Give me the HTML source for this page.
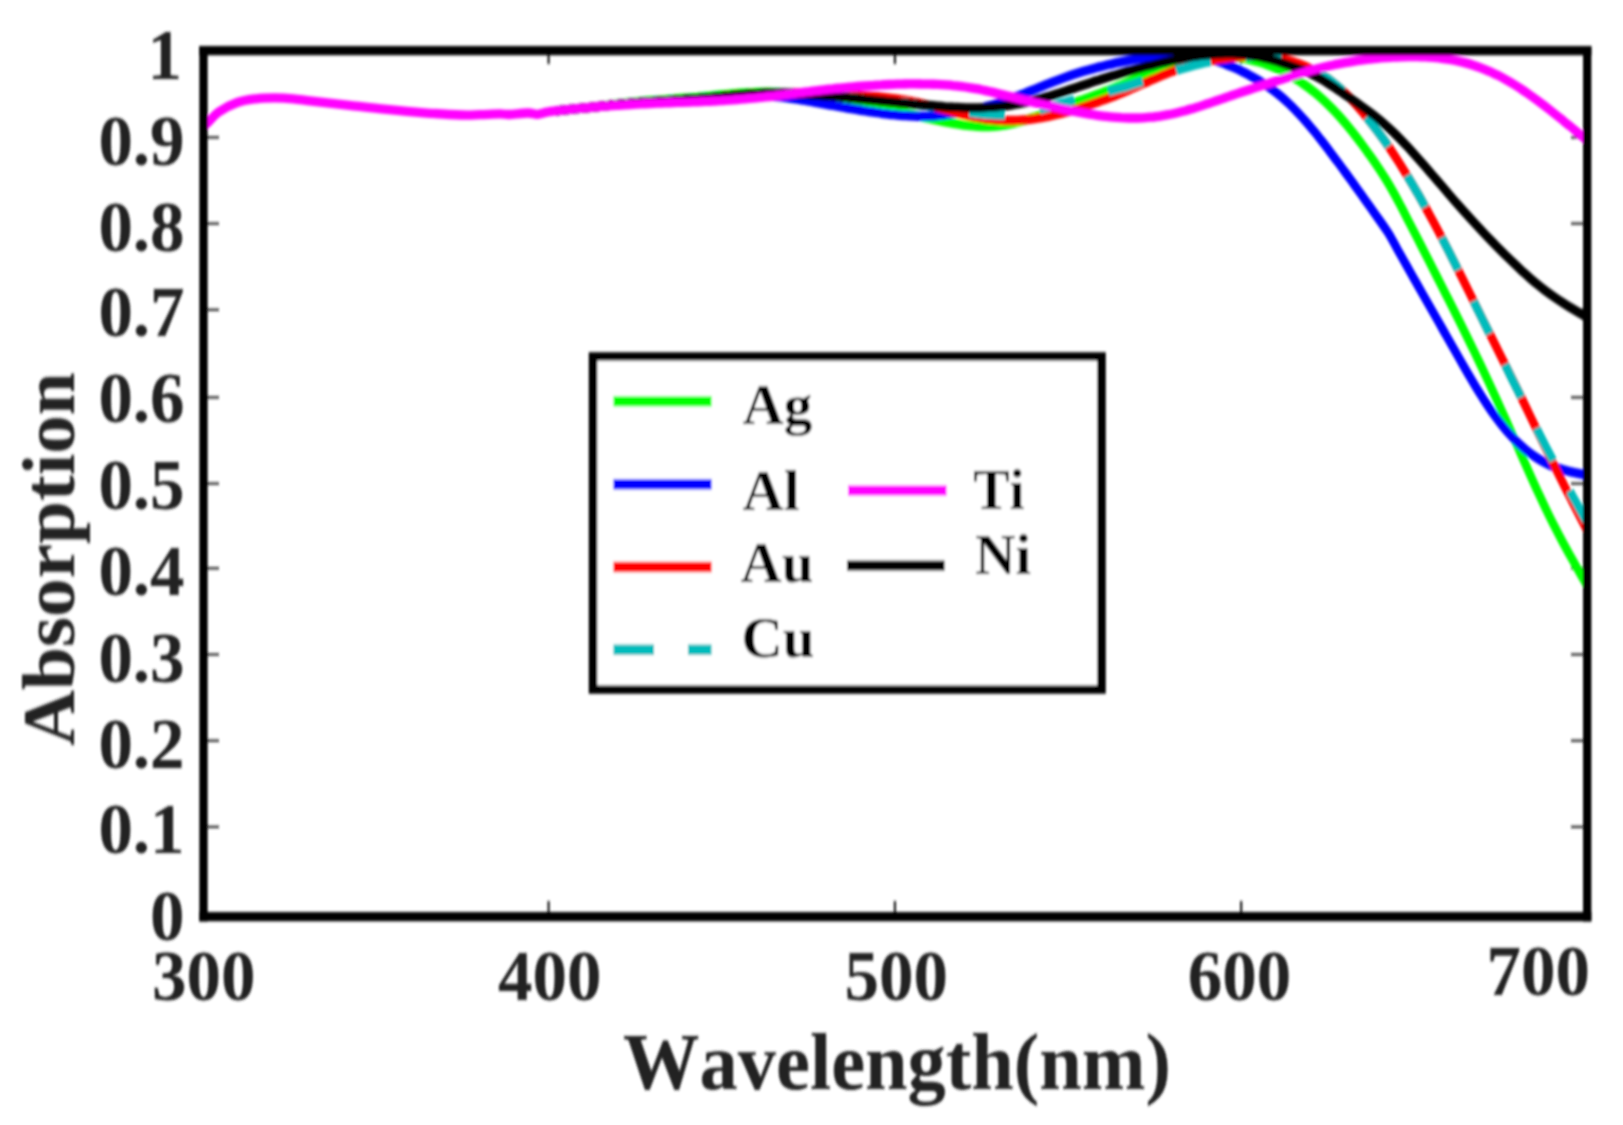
<!DOCTYPE html>
<html lang="en"><head><meta charset="utf-8"><title>Absorption vs Wavelength</title>
<style>
html,body{margin:0;padding:0;background:#fff;}
body{width:1623px;height:1125px;overflow:hidden;position:relative;font-family:"Liberation Serif",serif;}
svg{position:absolute;left:0;top:0;}
text{font-family:"Liberation Serif",serif;font-weight:bold;fill:#222;font-kerning:none;}
.tk{stroke:#222;stroke-width:2.3;}
.cv{fill:none;stroke-width:7.8;stroke-linejoin:round;}
</style></head><body>
<svg width="1623" height="1125" viewBox="0 0 1623 1125">
<rect x="0" y="0" width="1623" height="1125" fill="#fff"/>
<defs><filter id="bl" x="0" y="0" width="1623" height="1125" filterUnits="userSpaceOnUse"><feGaussianBlur stdDeviation="1.1 1.5"/></filter></defs>
<g filter="url(#bl)">
<defs><clipPath id="pc"><rect x="203" y="50" width="1384" height="867"/></clipPath></defs>
<line class="tk" x1="207" x2="219" y1="826.9" y2="826.9"/>
<line class="tk" x1="1571" x2="1583" y1="826.9" y2="826.9"/>
<line class="tk" x1="207" x2="219" y1="740.7" y2="740.7"/>
<line class="tk" x1="1571" x2="1583" y1="740.7" y2="740.7"/>
<line class="tk" x1="207" x2="219" y1="654.5" y2="654.5"/>
<line class="tk" x1="1571" x2="1583" y1="654.5" y2="654.5"/>
<line class="tk" x1="207" x2="219" y1="568.3" y2="568.3"/>
<line class="tk" x1="1571" x2="1583" y1="568.3" y2="568.3"/>
<line class="tk" x1="207" x2="219" y1="483.6" y2="483.6"/>
<line class="tk" x1="1571" x2="1583" y1="483.6" y2="483.6"/>
<line class="tk" x1="207" x2="219" y1="397.4" y2="397.4"/>
<line class="tk" x1="1571" x2="1583" y1="397.4" y2="397.4"/>
<line class="tk" x1="207" x2="219" y1="309.8" y2="309.8"/>
<line class="tk" x1="1571" x2="1583" y1="309.8" y2="309.8"/>
<line class="tk" x1="207" x2="219" y1="223.6" y2="223.6"/>
<line class="tk" x1="1571" x2="1583" y1="223.6" y2="223.6"/>
<line class="tk" x1="207" x2="219" y1="137.4" y2="137.4"/>
<line class="tk" x1="1571" x2="1583" y1="137.4" y2="137.4"/>
<line class="tk" x1="548.6" x2="548.6" y1="54" y2="64"/>
<line class="tk" x1="548.6" x2="548.6" y1="901" y2="913"/>
<line class="tk" x1="894.9" x2="894.9" y1="54" y2="64"/>
<line class="tk" x1="894.9" x2="894.9" y1="901" y2="913"/>
<line class="tk" x1="1241.2" x2="1241.2" y1="54" y2="64"/>
<line class="tk" x1="1241.2" x2="1241.2" y1="901" y2="913"/>
<g clip-path="url(#pc)">
<g class="cv" stroke="#00ff00"><path id="cAg" transform="translate(0,-0.75)" d="M556.0 110.8C562.2 110.2 585.8 107.9 593.3 107.1C600.8 106.3 598.6 106.4 601.3 106.0C604.0 105.7 606.6 105.4 609.3 105.1C612.0 104.8 614.6 104.4 617.3 104.1C620.0 103.8 622.6 103.6 625.3 103.3C628.0 103.0 630.6 102.7 633.3 102.5C636.0 102.2 638.6 102.0 641.3 101.7C644.0 101.5 646.6 101.3 649.3 101.0C652.0 100.8 654.6 100.6 657.3 100.4C660.0 100.2 662.6 100.0 665.3 99.8C668.0 99.6 670.6 99.4 673.3 99.2C676.0 98.9 678.6 98.7 681.3 98.5C684.0 98.3 686.6 98.1 689.3 97.9C692.0 97.7 694.6 97.5 697.3 97.3C700.0 97.0 702.6 96.8 705.3 96.5C708.0 96.3 710.6 96.0 713.3 95.7C716.0 95.5 718.6 95.2 721.3 94.9C724.0 94.7 726.6 94.4 729.3 94.2C732.0 94.0 734.6 93.7 737.3 93.5C740.0 93.3 742.6 93.1 745.3 93.0C748.0 92.8 750.6 92.7 753.3 92.6C756.0 92.4 758.6 92.4 761.3 92.3C764.0 92.2 766.6 92.2 769.3 92.2C772.0 92.3 774.6 92.3 777.3 92.4C780.0 92.5 782.6 92.6 785.3 92.8C788.0 93.0 790.6 93.2 793.3 93.4C796.0 93.7 798.6 93.9 801.3 94.2C804.0 94.5 806.6 94.8 809.3 95.2C812.0 95.5 814.6 95.8 817.3 96.2C820.0 96.6 822.6 97.0 825.3 97.4C828.0 97.8 830.6 98.2 833.3 98.6C836.0 99.0 838.6 99.4 841.3 99.9C844.0 100.3 846.6 100.8 849.3 101.3C852.0 101.7 854.6 102.2 857.3 102.7C860.0 103.2 862.6 103.7 865.3 104.2C868.0 104.7 870.6 105.2 873.3 105.8C876.0 106.3 878.6 106.9 881.3 107.4C884.0 108.0 886.6 108.6 889.3 109.2C892.0 109.7 894.6 110.3 897.3 111.0C900.0 111.6 902.6 112.2 905.3 112.8C908.0 113.5 910.6 114.1 913.3 114.7C916.0 115.4 918.6 116.0 921.3 116.7C924.0 117.3 926.6 117.9 929.3 118.5C932.0 119.1 934.6 119.7 937.3 120.3C940.0 120.9 942.6 121.4 945.3 121.9C948.0 122.5 950.6 123.0 953.3 123.4C956.0 123.9 958.6 124.3 961.3 124.7C964.0 125.0 966.6 125.4 969.3 125.6C972.0 125.9 974.6 126.1 977.3 126.3C980.0 126.4 982.6 126.5 985.3 126.5C988.0 126.5 990.6 126.4 993.3 126.3C996.0 126.1 998.6 125.8 1001.3 125.5C1004.0 125.1 1006.6 124.7 1009.3 124.2C1012.0 123.6 1014.6 123.0 1017.3 122.3C1020.0 121.6 1022.6 120.9 1025.3 120.0C1028.0 119.2 1030.6 118.4 1033.3 117.5C1036.0 116.6 1038.6 115.6 1041.3 114.7C1044.0 113.7 1046.6 112.8 1049.3 111.8C1052.0 110.8 1054.6 109.9 1057.3 108.9C1060.0 107.9 1062.6 106.9 1065.3 106.0C1068.0 105.0 1070.6 104.0 1073.3 103.1C1076.0 102.2 1078.6 101.2 1081.3 100.3C1084.0 99.3 1086.6 98.4 1089.3 97.5C1092.0 96.5 1094.6 95.5 1097.3 94.5C1100.0 93.6 1102.6 92.5 1105.3 91.5C1108.0 90.5 1110.6 89.4 1113.3 88.3C1116.0 87.2 1118.6 86.1 1121.3 85.0C1124.0 83.9 1126.6 82.7 1129.3 81.6C1132.0 80.5 1134.6 79.3 1137.3 78.2C1140.0 77.1 1142.6 76.0 1145.3 74.9C1148.0 73.8 1150.6 72.7 1153.3 71.7C1156.0 70.7 1158.6 69.6 1161.3 68.7C1164.0 67.7 1166.6 66.8 1169.3 65.9C1172.0 65.0 1174.6 64.2 1177.3 63.4C1180.0 62.6 1182.6 61.9 1185.3 61.2C1188.0 60.6 1190.6 60.0 1193.3 59.4C1196.0 58.9 1198.6 58.4 1201.3 58.0C1204.0 57.6 1206.6 57.2 1209.3 57.0C1212.0 56.7 1214.6 56.5 1217.3 56.4C1220.0 56.3 1222.6 56.3 1225.3 56.4C1228.0 56.4 1230.6 56.6 1233.3 56.8C1236.0 57.1 1238.6 57.4 1241.3 57.9C1244.0 58.3 1246.6 58.8 1249.3 59.4C1252.0 60.0 1254.6 60.7 1257.3 61.5C1260.0 62.2 1262.6 63.1 1265.3 64.0C1268.0 64.9 1270.6 66.0 1273.3 67.1C1276.0 68.2 1278.6 69.4 1281.3 70.7C1284.0 72.0 1286.6 73.4 1289.3 75.0C1292.0 76.5 1294.6 78.1 1297.3 79.8C1300.0 81.5 1302.6 83.3 1305.3 85.3C1308.0 87.2 1310.6 89.2 1313.3 91.3C1316.0 93.5 1318.6 95.7 1321.3 98.1C1324.0 100.5 1326.6 103.0 1329.3 105.7C1332.0 108.3 1334.6 111.1 1337.3 114.0C1340.0 116.9 1342.6 120.0 1345.3 123.1C1348.0 126.3 1350.6 129.6 1353.3 133.0C1356.0 136.4 1358.6 139.9 1361.3 143.5C1364.0 147.1 1366.6 150.8 1369.3 154.6C1372.0 158.4 1374.6 162.1 1377.3 166.1C1380.0 170.0 1382.6 174.1 1385.3 178.4C1388.0 182.7 1390.6 187.2 1393.3 192.0C1396.0 196.8 1398.6 201.8 1401.3 206.9C1404.0 212.0 1406.6 217.4 1409.3 222.5C1412.0 227.7 1414.6 232.8 1417.3 238.0C1420.0 243.2 1422.6 248.5 1425.3 253.7C1428.0 259.0 1430.6 264.2 1433.3 269.5C1436.0 274.7 1438.6 280.0 1441.3 285.2C1444.0 290.5 1446.6 295.8 1449.3 301.1C1452.0 306.4 1454.6 311.7 1457.3 317.0C1460.0 322.4 1462.6 327.7 1465.3 333.2C1468.0 338.6 1470.6 344.1 1473.3 349.6C1476.0 355.1 1478.6 360.7 1481.3 366.3C1484.0 372.0 1486.6 377.7 1489.3 383.4C1492.0 389.2 1494.6 395.0 1497.3 400.9C1500.0 406.8 1502.6 412.7 1505.3 418.6C1508.0 424.6 1510.6 430.6 1513.3 436.7C1516.0 442.7 1518.6 448.8 1521.3 454.8C1524.0 460.8 1526.6 466.9 1529.3 472.9C1532.0 478.9 1534.6 484.8 1537.3 490.6C1540.0 496.4 1542.6 502.2 1545.3 507.7C1548.0 513.3 1550.6 518.7 1553.3 524.0C1556.0 529.2 1558.6 534.3 1561.3 539.4C1564.0 544.4 1566.6 549.3 1569.3 554.1C1572.0 558.9 1574.3 563.0 1577.3 568.3C1580.3 573.7 1585.8 583.2 1587.5 586.1"/><use href="#cAg" y="1.50"/></g>
<g class="cv" stroke="#0000ff"><path id="cAl" transform="translate(0,-0.75)" d="M556.0 110.8C562.2 110.2 585.8 107.9 593.3 107.1C600.8 106.3 598.6 106.4 601.3 106.1C604.0 105.8 606.6 105.6 609.3 105.3C612.0 105.0 614.6 104.7 617.3 104.5C620.0 104.2 622.6 103.9 625.3 103.7C628.0 103.5 630.6 103.2 633.3 103.0C636.0 102.8 638.6 102.6 641.3 102.4C644.0 102.2 646.6 102.0 649.3 101.8C652.0 101.6 654.6 101.4 657.3 101.2C660.0 101.1 662.6 100.9 665.3 100.7C668.0 100.5 670.6 100.4 673.3 100.2C676.0 100.0 678.6 99.8 681.3 99.7C684.0 99.5 686.6 99.3 689.3 99.1C692.0 99.0 694.6 98.8 697.3 98.6C700.0 98.4 702.6 98.2 705.3 98.0C708.0 97.8 710.6 97.6 713.3 97.4C716.0 97.2 718.6 97.0 721.3 96.8C724.0 96.6 726.6 96.4 729.3 96.2C732.0 96.1 734.6 95.9 737.3 95.8C740.0 95.7 742.6 95.6 745.3 95.6C748.0 95.5 750.6 95.5 753.3 95.5C756.0 95.5 758.6 95.5 761.3 95.6C764.0 95.7 766.6 95.9 769.3 96.0C772.0 96.2 774.6 96.4 777.3 96.7C780.0 96.9 782.6 97.2 785.3 97.5C788.0 97.9 790.6 98.2 793.3 98.6C796.0 99.0 798.6 99.4 801.3 99.8C804.0 100.3 806.6 100.7 809.3 101.2C812.0 101.7 814.6 102.1 817.3 102.6C820.0 103.1 822.6 103.6 825.3 104.1C828.0 104.6 830.6 105.1 833.3 105.5C836.0 106.0 838.6 106.5 841.3 107.0C844.0 107.5 846.6 107.9 849.3 108.4C852.0 108.9 854.6 109.3 857.3 109.7C860.0 110.2 862.6 110.6 865.3 111.0C868.0 111.4 870.6 111.8 873.3 112.2C876.0 112.6 878.6 112.9 881.3 113.3C884.0 113.6 886.6 114.0 889.3 114.3C892.0 114.6 894.6 114.8 897.3 115.1C900.0 115.3 902.6 115.6 905.3 115.7C908.0 115.9 910.6 116.0 913.3 116.1C916.0 116.2 918.6 116.3 921.3 116.3C924.0 116.3 926.6 116.2 929.3 116.1C932.0 116.0 934.6 115.8 937.3 115.5C940.0 115.3 942.6 115.0 945.3 114.7C948.0 114.4 950.6 114.0 953.3 113.6C956.0 113.2 958.6 112.8 961.3 112.3C964.0 111.8 966.6 111.3 969.3 110.7C972.0 110.2 974.6 109.6 977.3 108.9C980.0 108.3 982.6 107.7 985.3 106.9C988.0 106.2 990.6 105.5 993.3 104.7C996.0 103.8 998.6 103.0 1001.3 102.1C1004.0 101.2 1006.6 100.2 1009.3 99.3C1012.0 98.3 1014.6 97.3 1017.3 96.2C1020.0 95.2 1022.6 94.1 1025.3 93.1C1028.0 92.0 1030.6 90.9 1033.3 89.8C1036.0 88.8 1038.6 87.7 1041.3 86.6C1044.0 85.5 1046.6 84.4 1049.3 83.4C1052.0 82.3 1054.6 81.3 1057.3 80.3C1060.0 79.3 1062.6 78.3 1065.3 77.3C1068.0 76.3 1070.6 75.4 1073.3 74.5C1076.0 73.7 1078.6 72.8 1081.3 72.0C1084.0 71.2 1086.6 70.4 1089.3 69.7C1092.0 68.9 1094.6 68.2 1097.3 67.5C1100.0 66.8 1102.6 66.1 1105.3 65.5C1108.0 64.9 1110.6 64.2 1113.3 63.6C1116.0 63.1 1118.6 62.5 1121.3 61.9C1124.0 61.4 1126.6 60.9 1129.3 60.4C1132.0 59.9 1134.6 59.4 1137.3 59.0C1140.0 58.5 1142.6 58.1 1145.3 57.7C1148.0 57.3 1150.6 56.9 1153.3 56.6C1156.0 56.3 1158.6 55.9 1161.3 55.7C1164.0 55.4 1166.6 55.1 1169.3 55.0C1172.0 54.8 1174.6 54.6 1177.3 54.6C1180.0 54.5 1182.6 54.5 1185.3 54.7C1188.0 54.8 1190.6 55.0 1193.3 55.3C1196.0 55.6 1198.6 56.1 1201.3 56.6C1204.0 57.1 1206.6 57.8 1209.3 58.5C1212.0 59.3 1214.6 60.1 1217.3 61.0C1220.0 61.9 1222.6 62.9 1225.3 64.0C1228.0 65.0 1230.6 66.1 1233.3 67.3C1236.0 68.5 1238.6 69.7 1241.3 71.0C1244.0 72.4 1246.6 73.7 1249.3 75.2C1252.0 76.6 1254.6 78.1 1257.3 79.7C1260.0 81.3 1262.6 83.0 1265.3 84.8C1268.0 86.6 1270.6 88.4 1273.3 90.4C1276.0 92.4 1278.6 94.5 1281.3 96.8C1284.0 99.1 1286.6 101.5 1289.3 104.0C1292.0 106.6 1294.6 109.3 1297.3 112.1C1300.0 114.9 1302.6 117.9 1305.3 120.9C1308.0 123.9 1310.6 127.1 1313.3 130.3C1316.0 133.6 1318.6 136.9 1321.3 140.3C1324.0 143.7 1326.6 147.2 1329.3 150.8C1332.0 154.3 1334.6 157.9 1337.3 161.5C1340.0 165.1 1342.6 168.7 1345.3 172.4C1348.0 176.0 1350.6 179.7 1353.3 183.4C1356.0 187.1 1358.6 190.8 1361.3 194.5C1364.0 198.3 1366.6 202.0 1369.3 205.8C1372.0 209.6 1374.6 213.4 1377.3 217.1C1380.0 220.9 1383.2 225.4 1385.3 228.5C1387.4 231.6 1387.9 232.0 1390.0 235.7C1392.1 239.3 1395.3 245.5 1398.0 250.3C1400.7 255.1 1403.3 259.8 1406.0 264.5C1408.7 269.2 1411.3 274.0 1414.0 278.7C1416.7 283.4 1419.3 288.1 1422.0 292.8C1424.7 297.5 1427.3 302.2 1430.0 306.9C1432.7 311.6 1435.3 316.2 1438.0 320.9C1440.7 325.6 1443.3 330.4 1446.0 335.1C1448.7 339.8 1451.3 344.5 1454.0 349.2C1456.7 353.9 1459.3 358.6 1462.0 363.2C1464.7 367.9 1467.3 372.5 1470.0 377.0C1472.7 381.6 1475.3 386.1 1478.0 390.4C1480.7 394.7 1483.3 399.0 1486.0 403.0C1488.7 407.1 1491.3 411.0 1494.0 414.7C1496.7 418.4 1499.3 421.9 1502.0 425.2C1504.7 428.6 1507.3 431.7 1510.0 434.6C1512.7 437.6 1515.3 440.3 1518.0 442.9C1520.7 445.4 1523.3 447.8 1526.0 450.0C1528.7 452.2 1531.3 454.2 1534.0 456.0C1536.7 457.9 1539.3 459.5 1542.0 461.0C1544.7 462.5 1547.3 463.9 1550.0 465.1C1552.7 466.3 1555.3 467.3 1558.0 468.2C1560.7 469.2 1563.3 469.9 1566.0 470.6C1568.7 471.4 1571.3 471.9 1574.0 472.5C1576.7 473.1 1579.8 473.6 1582.0 474.1C1584.2 474.5 1586.6 474.9 1587.5 475.0"/><use href="#cAl" y="1.50"/></g>
<g class="cv" stroke="#ff0000"><path id="cAu" transform="translate(0,-0.75)" d="M556.0 110.8C562.2 110.2 585.8 107.9 593.3 107.1C600.8 106.3 598.6 106.4 601.3 106.1C604.0 105.8 606.6 105.6 609.3 105.3C612.0 105.0 614.6 104.7 617.3 104.5C620.0 104.2 622.6 103.9 625.3 103.7C628.0 103.5 630.6 103.2 633.3 103.0C636.0 102.8 638.6 102.6 641.3 102.4C644.0 102.2 646.6 102.0 649.3 101.8C652.0 101.6 654.6 101.4 657.3 101.3C660.0 101.1 662.6 100.9 665.3 100.8C668.0 100.6 670.6 100.4 673.3 100.3C676.0 100.1 678.6 99.9 681.3 99.8C684.0 99.6 686.6 99.4 689.3 99.2C692.0 99.1 694.6 98.9 697.3 98.7C700.0 98.5 702.6 98.3 705.3 98.1C708.0 97.8 710.6 97.6 713.3 97.4C716.0 97.1 718.6 96.9 721.3 96.6C724.0 96.4 726.6 96.2 729.3 95.9C732.0 95.7 734.6 95.5 737.3 95.2C740.0 95.0 742.6 94.8 745.3 94.6C748.0 94.4 750.6 94.2 753.3 94.0C756.0 93.8 758.6 93.6 761.3 93.5C764.0 93.3 766.6 93.2 769.3 93.1C772.0 93.0 774.6 92.9 777.3 92.9C780.0 92.8 782.6 92.8 785.3 92.8C788.0 92.8 790.6 92.8 793.3 92.8C796.0 92.8 798.6 92.9 801.3 92.9C804.0 93.0 806.6 93.1 809.3 93.1C812.0 93.2 814.6 93.3 817.3 93.4C820.0 93.5 822.6 93.6 825.3 93.7C828.0 93.8 830.6 93.9 833.3 94.1C836.0 94.2 838.6 94.3 841.3 94.4C844.0 94.6 846.6 94.7 849.3 94.9C852.0 95.0 854.6 95.2 857.3 95.3C860.0 95.5 862.6 95.7 865.3 95.9C868.0 96.1 870.6 96.3 873.3 96.5C876.0 96.7 878.6 96.9 881.3 97.2C884.0 97.5 886.6 97.8 889.3 98.1C892.0 98.4 894.6 98.8 897.3 99.1C900.0 99.5 902.6 99.9 905.3 100.4C908.0 100.9 910.6 101.4 913.3 101.9C916.0 102.4 918.6 103.0 921.3 103.6C924.0 104.2 926.6 104.9 929.3 105.6C932.0 106.2 934.6 106.9 937.3 107.6C940.0 108.3 942.6 109.1 945.3 109.8C948.0 110.5 950.6 111.2 953.3 111.9C956.0 112.6 958.6 113.3 961.3 114.0C964.0 114.6 966.6 115.3 969.3 115.9C972.0 116.4 974.6 117.0 977.3 117.5C980.0 118.0 982.6 118.4 985.3 118.8C988.0 119.2 990.6 119.5 993.3 119.7C996.0 120.0 998.6 120.2 1001.3 120.3C1004.0 120.5 1006.6 120.5 1009.3 120.5C1012.0 120.5 1014.6 120.5 1017.3 120.3C1020.0 120.2 1022.6 120.0 1025.3 119.8C1028.0 119.5 1030.6 119.2 1033.3 118.9C1036.0 118.5 1038.6 118.1 1041.3 117.6C1044.0 117.2 1046.6 116.7 1049.3 116.1C1052.0 115.6 1054.6 115.0 1057.3 114.3C1060.0 113.7 1062.6 113.0 1065.3 112.3C1068.0 111.6 1070.6 110.8 1073.3 110.1C1076.0 109.3 1078.6 108.5 1081.3 107.6C1084.0 106.8 1086.6 105.9 1089.3 105.0C1092.0 104.1 1094.6 103.2 1097.3 102.2C1100.0 101.3 1102.6 100.3 1105.3 99.3C1108.0 98.3 1110.6 97.3 1113.3 96.3C1116.0 95.2 1118.6 94.1 1121.3 93.1C1124.0 92.0 1126.6 90.8 1129.3 89.7C1132.0 88.6 1134.6 87.4 1137.3 86.2C1140.0 85.1 1142.6 83.9 1145.3 82.7C1148.0 81.5 1150.6 80.3 1153.3 79.2C1156.0 78.0 1158.6 76.9 1161.3 75.7C1164.0 74.6 1166.6 73.6 1169.3 72.5C1172.0 71.5 1174.6 70.5 1177.3 69.6C1180.0 68.7 1182.6 67.8 1185.3 67.0C1188.0 66.2 1190.6 65.4 1193.3 64.7C1196.0 64.0 1198.6 63.3 1201.3 62.7C1204.0 62.1 1206.6 61.5 1209.3 61.0C1212.0 60.5 1214.6 60.0 1217.3 59.5C1220.0 59.1 1222.6 58.7 1225.3 58.3C1228.0 57.9 1230.6 57.6 1233.3 57.3C1236.0 57.0 1238.6 56.8 1241.3 56.6C1244.0 56.4 1246.6 56.3 1249.3 56.2C1252.0 56.2 1254.6 56.2 1257.3 56.2C1260.0 56.3 1262.6 56.4 1265.3 56.7C1268.0 56.9 1270.6 57.2 1273.3 57.5C1276.0 57.9 1278.6 58.4 1281.3 58.9C1284.0 59.5 1286.6 60.1 1289.3 60.8C1292.0 61.5 1294.6 62.3 1297.3 63.3C1300.0 64.2 1302.6 65.2 1305.3 66.3C1308.0 67.4 1310.6 68.7 1313.3 70.1C1316.0 71.4 1318.6 72.9 1321.3 74.6C1324.0 76.2 1326.6 77.9 1329.3 79.8C1332.0 81.8 1334.6 83.8 1337.3 86.1C1340.0 88.3 1342.6 90.7 1345.3 93.3C1348.0 95.9 1350.6 98.6 1353.3 101.5C1356.0 104.4 1358.6 107.5 1361.3 110.6C1364.0 113.8 1366.6 117.1 1369.3 120.5C1372.0 123.8 1374.6 127.3 1377.3 130.8C1380.0 134.4 1382.6 138.0 1385.3 141.8C1388.0 145.6 1390.6 149.5 1393.3 153.6C1396.0 157.6 1398.6 161.9 1401.3 166.1C1404.0 170.4 1406.6 174.8 1409.3 179.3C1412.0 183.7 1414.6 188.2 1417.3 192.8C1420.0 197.5 1422.6 202.2 1425.3 207.0C1428.0 211.8 1430.6 216.7 1433.3 221.6C1436.0 226.6 1438.6 231.6 1441.3 236.8C1444.0 241.9 1446.6 247.1 1449.3 252.3C1452.0 257.6 1454.6 262.9 1457.3 268.2C1460.0 273.5 1462.6 278.9 1465.3 284.3C1468.0 289.7 1470.6 295.1 1473.3 300.5C1476.0 305.9 1478.6 311.3 1481.3 316.7C1484.0 322.1 1486.6 327.5 1489.3 332.8C1492.0 338.2 1494.6 343.6 1497.3 348.9C1500.0 354.3 1502.6 359.6 1505.3 365.0C1508.0 370.4 1510.6 375.7 1513.3 381.1C1516.0 386.6 1518.6 392.0 1521.3 397.5C1524.0 403.0 1526.6 408.6 1529.3 414.1C1532.0 419.7 1534.6 425.2 1537.3 430.7C1540.0 436.3 1542.6 441.8 1545.3 447.3C1548.0 452.7 1550.6 458.2 1553.3 463.6C1556.0 469.0 1558.6 474.4 1561.3 479.7C1564.0 485.1 1566.6 490.3 1569.3 495.6C1572.0 500.9 1574.3 505.4 1577.3 511.3C1580.3 517.2 1585.8 527.7 1587.5 531.0"/><use href="#cAu" y="1.50"/></g>
<g class="cv" stroke="#00bcbc" stroke-dasharray="35.5 35.5" stroke-dashoffset="10.6"><path id="cCu" transform="translate(0,-0.75)" d="M556.0 110.8C562.2 110.2 585.8 107.9 593.3 107.1C600.8 106.3 598.6 106.4 601.3 106.1C604.0 105.8 606.6 105.6 609.3 105.3C612.0 105.0 614.6 104.7 617.3 104.5C620.0 104.2 622.6 103.9 625.3 103.7C628.0 103.5 630.6 103.2 633.3 103.0C636.0 102.8 638.6 102.6 641.3 102.4C644.0 102.2 646.6 102.0 649.3 101.8C652.0 101.6 654.6 101.4 657.3 101.3C660.0 101.1 662.6 100.9 665.3 100.8C668.0 100.6 670.6 100.4 673.3 100.3C676.0 100.1 678.6 99.9 681.3 99.8C684.0 99.6 686.6 99.4 689.3 99.2C692.0 99.1 694.6 98.9 697.3 98.7C700.0 98.5 702.6 98.3 705.3 98.1C708.0 97.8 710.6 97.6 713.3 97.3C716.0 97.1 718.6 96.8 721.3 96.6C724.0 96.4 726.6 96.1 729.3 95.9C732.0 95.6 734.6 95.4 737.3 95.2C740.0 95.0 742.6 94.7 745.3 94.5C748.0 94.3 750.6 94.1 753.3 93.9C756.0 93.8 758.6 93.6 761.3 93.5C764.0 93.3 766.6 93.2 769.3 93.2C772.0 93.1 774.6 93.1 777.3 93.0C780.0 93.0 782.6 93.1 785.3 93.1C788.0 93.2 790.6 93.3 793.3 93.4C796.0 93.5 798.6 93.6 801.3 93.8C804.0 93.9 806.6 94.1 809.3 94.3C812.0 94.4 814.6 94.6 817.3 94.8C820.0 95.0 822.6 95.2 825.3 95.5C828.0 95.7 830.6 95.9 833.3 96.1C836.0 96.3 838.6 96.6 841.3 96.8C844.0 97.0 846.6 97.3 849.3 97.5C852.0 97.7 854.6 98.0 857.3 98.2C860.0 98.5 862.6 98.7 865.3 99.0C868.0 99.2 870.6 99.5 873.3 99.7C876.0 100.0 878.6 100.2 881.3 100.5C884.0 100.8 886.6 101.0 889.3 101.3C892.0 101.6 894.6 101.9 897.3 102.2C900.0 102.4 902.6 102.7 905.3 103.0C908.0 103.3 910.6 103.6 913.3 104.0C916.0 104.3 918.6 104.6 921.3 105.0C924.0 105.3 926.6 105.7 929.3 106.0C932.0 106.4 934.6 106.8 937.3 107.2C940.0 107.6 942.6 108.1 945.3 108.5C948.0 108.9 950.6 109.4 953.3 109.8C956.0 110.3 958.6 110.7 961.3 111.1C964.0 111.6 966.6 112.0 969.3 112.4C972.0 112.8 974.6 113.2 977.3 113.5C980.0 113.8 982.6 114.1 985.3 114.3C988.0 114.6 990.6 114.7 993.3 114.9C996.0 115.0 998.6 115.0 1001.3 115.0C1004.0 115.0 1006.6 114.9 1009.3 114.7C1012.0 114.5 1014.6 114.3 1017.3 113.9C1020.0 113.6 1022.6 113.2 1025.3 112.7C1028.0 112.3 1030.6 111.7 1033.3 111.1C1036.0 110.6 1038.6 109.9 1041.3 109.2C1044.0 108.5 1046.6 107.8 1049.3 107.0C1052.0 106.3 1054.6 105.5 1057.3 104.7C1060.0 104.0 1062.6 103.2 1065.3 102.4C1068.0 101.7 1070.6 101.0 1073.3 100.3C1076.0 99.6 1078.6 98.9 1081.3 98.2C1084.0 97.5 1086.6 96.9 1089.3 96.2C1092.0 95.6 1094.6 94.9 1097.3 94.3C1100.0 93.6 1102.6 93.0 1105.3 92.3C1108.0 91.6 1110.6 90.9 1113.3 90.2C1116.0 89.5 1118.6 88.8 1121.3 88.0C1124.0 87.3 1126.6 86.5 1129.3 85.7C1132.0 84.9 1134.6 84.0 1137.3 83.1C1140.0 82.2 1142.6 81.3 1145.3 80.4C1148.0 79.5 1150.6 78.6 1153.3 77.7C1156.0 76.8 1158.6 75.9 1161.3 75.0C1164.0 74.1 1166.6 73.3 1169.3 72.4C1172.0 71.6 1174.6 70.8 1177.3 70.0C1180.0 69.2 1182.6 68.4 1185.3 67.7C1188.0 66.9 1190.6 66.2 1193.3 65.5C1196.0 64.8 1198.6 64.1 1201.3 63.4C1204.0 62.8 1206.6 62.2 1209.3 61.6C1212.0 61.0 1214.6 60.4 1217.3 59.9C1220.0 59.4 1222.6 58.9 1225.3 58.5C1228.0 58.1 1230.6 57.7 1233.3 57.4C1236.0 57.1 1238.6 56.8 1241.3 56.7C1244.0 56.5 1246.6 56.3 1249.3 56.2C1252.0 56.2 1254.6 56.2 1257.3 56.2C1260.0 56.3 1262.6 56.4 1265.3 56.6C1268.0 56.8 1270.6 57.1 1273.3 57.5C1276.0 57.9 1278.6 58.3 1281.3 58.9C1284.0 59.4 1286.6 60.1 1289.3 60.8C1292.0 61.5 1294.6 62.3 1297.3 63.2C1300.0 64.2 1302.6 65.2 1305.3 66.3C1308.0 67.4 1310.6 68.7 1313.3 70.1C1316.0 71.4 1318.6 72.9 1321.3 74.6C1324.0 76.2 1326.6 77.9 1329.3 79.8C1332.0 81.8 1334.6 83.8 1337.3 86.1C1340.0 88.3 1342.6 90.7 1345.3 93.3C1348.0 95.9 1350.6 98.6 1353.3 101.5C1356.0 104.4 1358.6 107.5 1361.3 110.6C1364.0 113.8 1366.6 117.1 1369.3 120.5C1372.0 123.8 1374.6 127.3 1377.3 130.8C1380.0 134.4 1382.6 138.0 1385.3 141.8C1388.0 145.6 1390.6 149.5 1393.3 153.6C1396.0 157.6 1398.6 161.9 1401.3 166.1C1404.0 170.4 1406.6 174.8 1409.3 179.3C1412.0 183.7 1414.6 188.2 1417.3 192.8C1420.0 197.5 1422.6 202.2 1425.3 207.0C1428.0 211.8 1430.6 216.7 1433.3 221.6C1436.0 226.6 1438.6 231.6 1441.3 236.8C1444.0 241.9 1446.6 247.1 1449.3 252.3C1452.0 257.6 1454.6 262.9 1457.3 268.2C1460.0 273.6 1462.6 279.0 1465.3 284.4C1468.0 289.8 1470.6 295.2 1473.3 300.6C1476.0 306.0 1478.6 311.5 1481.3 316.9C1484.0 322.3 1486.6 327.7 1489.3 333.1C1492.0 338.5 1494.6 343.8 1497.3 349.2C1500.0 354.6 1502.6 359.9 1505.3 365.3C1508.0 370.6 1510.6 376.0 1513.3 381.4C1516.0 386.7 1518.6 392.2 1521.3 397.6C1524.0 403.0 1526.6 408.5 1529.3 413.9C1532.0 419.2 1534.6 424.6 1537.3 429.9C1540.0 435.2 1542.6 440.5 1545.3 445.7C1548.0 450.8 1550.6 455.9 1553.3 460.9C1556.0 465.9 1558.6 470.9 1561.3 475.8C1564.0 480.6 1566.6 485.4 1569.3 490.2C1572.0 495.1 1574.3 499.2 1577.3 504.7C1580.3 510.2 1585.8 520.3 1587.5 523.4"/><use href="#cCu" y="1.50"/></g>
<g class="cv" stroke="#000000"><path id="cNi" transform="translate(0,-0.75)" d="M556.0 110.8C562.2 110.2 585.8 107.9 593.3 107.1C600.8 106.3 598.6 106.4 601.3 106.1C604.0 105.8 606.6 105.6 609.3 105.3C612.0 105.0 614.6 104.7 617.3 104.5C620.0 104.2 622.6 103.9 625.3 103.7C628.0 103.5 630.6 103.2 633.3 103.0C636.0 102.8 638.6 102.6 641.3 102.4C644.0 102.2 646.6 102.0 649.3 101.8C652.0 101.6 654.6 101.4 657.3 101.3C660.0 101.1 662.6 100.9 665.3 100.8C668.0 100.6 670.6 100.4 673.3 100.3C676.0 100.1 678.6 99.9 681.3 99.8C684.0 99.6 686.6 99.4 689.3 99.2C692.0 99.1 694.6 98.9 697.3 98.7C700.0 98.5 702.6 98.3 705.3 98.1C708.0 97.8 710.6 97.6 713.3 97.3C716.0 97.1 718.6 96.8 721.3 96.6C724.0 96.4 726.6 96.1 729.3 95.9C732.0 95.6 734.6 95.4 737.3 95.2C740.0 94.9 742.6 94.7 745.3 94.5C748.0 94.3 750.6 94.1 753.3 93.9C756.0 93.7 758.6 93.6 761.3 93.4C764.0 93.3 766.6 93.2 769.3 93.1C772.0 93.1 774.6 93.1 777.3 93.1C780.0 93.1 782.6 93.1 785.3 93.2C788.0 93.3 790.6 93.4 793.3 93.5C796.0 93.6 798.6 93.8 801.3 94.0C804.0 94.1 806.6 94.3 809.3 94.5C812.0 94.7 814.6 94.9 817.3 95.2C820.0 95.4 822.6 95.6 825.3 95.8C828.0 96.0 830.6 96.2 833.3 96.4C836.0 96.7 838.6 96.9 841.3 97.1C844.0 97.3 846.6 97.6 849.3 97.8C852.0 98.0 854.6 98.3 857.3 98.5C860.0 98.8 862.6 99.0 865.3 99.3C868.0 99.6 870.6 99.8 873.3 100.1C876.0 100.3 878.6 100.6 881.3 100.9C884.0 101.2 886.6 101.4 889.3 101.7C892.0 102.0 894.6 102.2 897.3 102.5C900.0 102.8 902.6 103.1 905.3 103.3C908.0 103.6 910.6 103.8 913.3 104.1C916.0 104.3 918.6 104.6 921.3 104.8C924.0 105.1 926.6 105.3 929.3 105.5C932.0 105.8 934.6 106.0 937.3 106.2C940.0 106.4 942.6 106.6 945.3 106.8C948.0 106.9 950.6 107.1 953.3 107.3C956.0 107.4 958.6 107.5 961.3 107.6C964.0 107.7 966.6 107.8 969.3 107.8C972.0 107.9 974.6 107.9 977.3 107.8C980.0 107.8 982.6 107.7 985.3 107.6C988.0 107.5 990.6 107.3 993.3 107.1C996.0 106.9 998.6 106.6 1001.3 106.3C1004.0 106.0 1006.6 105.7 1009.3 105.3C1012.0 104.9 1014.6 104.4 1017.3 104.0C1020.0 103.5 1022.6 102.9 1025.3 102.4C1028.0 101.8 1030.6 101.2 1033.3 100.5C1036.0 99.9 1038.6 99.2 1041.3 98.5C1044.0 97.7 1046.6 97.0 1049.3 96.2C1052.0 95.4 1054.6 94.5 1057.3 93.7C1060.0 92.9 1062.6 92.0 1065.3 91.1C1068.0 90.2 1070.6 89.4 1073.3 88.5C1076.0 87.6 1078.6 86.7 1081.3 85.8C1084.0 84.9 1086.6 84.1 1089.3 83.2C1092.0 82.3 1094.6 81.4 1097.3 80.6C1100.0 79.7 1102.6 78.9 1105.3 78.0C1108.0 77.2 1110.6 76.4 1113.3 75.6C1116.0 74.7 1118.6 74.0 1121.3 73.2C1124.0 72.4 1126.6 71.6 1129.3 70.9C1132.0 70.1 1134.6 69.4 1137.3 68.7C1140.0 68.0 1142.6 67.3 1145.3 66.6C1148.0 66.0 1150.6 65.3 1153.3 64.7C1156.0 64.0 1158.6 63.4 1161.3 62.8C1164.0 62.2 1166.6 61.6 1169.3 61.0C1172.0 60.5 1174.6 59.9 1177.3 59.4C1180.0 58.9 1182.6 58.4 1185.3 57.9C1188.0 57.4 1190.6 57.0 1193.3 56.5C1196.0 56.1 1198.6 55.7 1201.3 55.4C1204.0 55.1 1206.6 54.8 1209.3 54.5C1212.0 54.3 1214.6 54.0 1217.3 53.9C1220.0 53.8 1222.6 53.7 1225.3 53.6C1228.0 53.6 1230.6 53.6 1233.3 53.7C1236.0 53.8 1238.6 54.0 1241.3 54.2C1244.0 54.5 1246.6 54.8 1249.3 55.2C1252.0 55.5 1254.6 56.0 1257.3 56.5C1260.0 57.0 1262.6 57.6 1265.3 58.2C1268.0 58.9 1270.6 59.5 1273.3 60.3C1276.0 61.0 1278.6 61.8 1281.3 62.7C1284.0 63.5 1286.6 64.4 1289.3 65.4C1292.0 66.3 1294.6 67.3 1297.3 68.3C1300.0 69.3 1302.6 70.3 1305.3 71.4C1308.0 72.5 1310.6 73.7 1313.3 75.0C1316.0 76.3 1318.6 77.7 1321.3 79.2C1324.0 80.7 1326.6 82.4 1329.3 84.1C1332.0 85.8 1334.6 87.6 1337.3 89.4C1340.0 91.2 1342.6 93.1 1345.3 94.9C1348.0 96.7 1350.6 98.6 1353.3 100.4C1356.0 102.3 1358.6 104.2 1361.3 106.1C1364.0 108.0 1366.6 109.9 1369.3 111.9C1372.0 113.9 1374.6 115.9 1377.3 118.1C1380.0 120.2 1382.6 122.4 1385.3 124.8C1388.0 127.1 1390.6 129.6 1393.3 132.1C1396.0 134.7 1398.6 137.4 1401.3 140.2C1404.0 142.9 1406.6 145.8 1409.3 148.7C1412.0 151.7 1414.6 154.7 1417.3 157.7C1420.0 160.7 1422.6 163.7 1425.3 166.7C1428.0 169.8 1430.6 172.9 1433.3 176.0C1436.0 179.1 1438.6 182.2 1441.3 185.3C1444.0 188.5 1446.6 191.6 1449.3 194.7C1452.0 197.8 1454.6 200.9 1457.3 203.9C1460.0 206.9 1462.6 209.9 1465.3 212.9C1468.0 215.9 1470.6 218.8 1473.3 221.7C1476.0 224.6 1478.6 227.5 1481.3 230.3C1484.0 233.2 1486.6 236.0 1489.3 238.7C1492.0 241.5 1494.6 244.2 1497.3 246.9C1500.0 249.6 1502.6 252.3 1505.3 255.0C1508.0 257.6 1510.6 260.2 1513.3 262.7C1516.0 265.3 1518.6 267.8 1521.3 270.3C1524.0 272.7 1526.6 275.2 1529.3 277.5C1532.0 279.8 1534.6 282.1 1537.3 284.3C1540.0 286.4 1542.6 288.5 1545.3 290.6C1548.0 292.6 1550.6 294.5 1553.3 296.4C1556.0 298.3 1558.6 300.1 1561.3 301.8C1564.0 303.6 1566.6 305.3 1569.3 306.9C1572.0 308.6 1574.3 309.9 1577.3 311.7C1580.3 313.5 1585.8 316.7 1587.5 317.7"/><use href="#cNi" y="1.50"/></g>
<g class="cv" stroke="#ff00ff"><path id="cTi" transform="translate(0,-0.75)" d="M202.3 126.5C203.2 125.9 204.8 125.5 207.5 123.1C210.2 120.7 213.7 115.3 218.7 111.9C223.7 108.5 231.1 104.7 237.3 102.5C243.5 100.3 249.8 99.6 256.0 98.8C262.2 98.0 268.5 97.9 274.7 97.9C280.9 97.9 287.1 98.2 293.3 98.8C299.5 99.3 302.7 100.1 312.0 101.2C321.3 102.3 336.9 103.9 349.3 105.3C361.8 106.7 374.2 108.2 386.7 109.4C399.1 110.7 411.6 111.9 424.0 112.8C436.4 113.7 452.0 114.7 461.3 115.0C470.6 115.3 473.6 114.9 480.0 114.7C486.4 114.5 495.1 113.9 500.0 113.9C504.9 113.9 504.6 114.7 509.3 114.5C514.0 114.3 523.3 113.0 528.0 113.0C532.7 113.0 534.1 114.4 537.3 114.3C540.5 114.2 543.9 112.8 547.0 112.2C550.1 111.6 548.3 111.6 556.0 110.8C563.7 110.0 585.8 107.9 593.3 107.1C600.8 106.4 598.6 106.6 601.3 106.4C604.0 106.2 606.6 106.0 609.3 105.8C612.0 105.7 614.6 105.5 617.3 105.3C620.0 105.1 622.6 104.9 625.3 104.8C628.0 104.6 630.6 104.4 633.3 104.3C636.0 104.1 638.6 104.0 641.3 103.9C644.0 103.7 646.6 103.6 649.3 103.5C652.0 103.4 654.6 103.3 657.3 103.2C660.0 103.1 662.6 103.0 665.3 102.9C668.0 102.8 670.6 102.7 673.3 102.6C676.0 102.5 678.6 102.4 681.3 102.3C684.0 102.2 686.6 102.1 689.3 102.1C692.0 102.0 694.6 101.9 697.3 101.8C700.0 101.7 702.6 101.6 705.3 101.4C708.0 101.3 710.6 101.2 713.3 101.0C716.0 100.9 718.6 100.7 721.3 100.6C724.0 100.4 726.6 100.3 729.3 100.1C732.0 99.9 734.6 99.7 737.3 99.5C740.0 99.3 742.6 99.1 745.3 98.9C748.0 98.7 750.6 98.5 753.3 98.2C756.0 98.0 758.6 97.7 761.3 97.4C764.0 97.1 766.6 96.8 769.3 96.5C772.0 96.2 774.6 95.9 777.3 95.6C780.0 95.3 782.6 94.9 785.3 94.6C788.0 94.3 790.6 93.9 793.3 93.6C796.0 93.2 798.6 92.9 801.3 92.6C804.0 92.2 806.6 91.9 809.3 91.6C812.0 91.2 814.6 90.9 817.3 90.6C820.0 90.3 822.6 89.9 825.3 89.6C828.0 89.3 830.6 89.1 833.3 88.8C836.0 88.5 838.6 88.2 841.3 88.0C844.0 87.7 846.6 87.5 849.3 87.2C852.0 87.0 854.6 86.7 857.3 86.5C860.0 86.3 862.6 86.1 865.3 85.9C868.0 85.7 870.6 85.5 873.3 85.4C876.0 85.2 878.6 85.0 881.3 84.9C884.0 84.7 886.6 84.6 889.3 84.5C892.0 84.4 894.6 84.3 897.3 84.2C900.0 84.1 902.6 84.1 905.3 84.0C908.0 84.0 910.6 83.9 913.3 83.9C916.0 83.9 918.6 83.9 921.3 84.0C924.0 84.0 926.6 84.0 929.3 84.1C932.0 84.2 934.6 84.3 937.3 84.4C940.0 84.6 942.6 84.7 945.3 84.9C948.0 85.1 950.6 85.3 953.3 85.6C956.0 85.8 958.6 86.1 961.3 86.4C964.0 86.8 966.6 87.1 969.3 87.6C972.0 88.0 974.6 88.4 977.3 88.9C980.0 89.5 982.6 90.0 985.3 90.6C988.0 91.2 990.6 91.8 993.3 92.4C996.0 93.0 998.6 93.7 1001.3 94.4C1004.0 95.0 1006.6 95.7 1009.3 96.4C1012.0 97.1 1014.6 97.7 1017.3 98.4C1020.0 99.0 1022.6 99.7 1025.3 100.4C1028.0 101.0 1030.6 101.6 1033.3 102.3C1036.0 102.9 1038.6 103.6 1041.3 104.2C1044.0 104.8 1046.6 105.4 1049.3 106.0C1052.0 106.6 1054.6 107.2 1057.3 107.8C1060.0 108.4 1062.6 109.0 1065.3 109.6C1068.0 110.1 1070.6 110.7 1073.3 111.2C1076.0 111.7 1078.6 112.2 1081.3 112.7C1084.0 113.2 1086.6 113.7 1089.3 114.1C1092.0 114.5 1094.6 114.9 1097.3 115.3C1100.0 115.7 1102.6 116.0 1105.3 116.3C1108.0 116.6 1110.6 116.9 1113.3 117.1C1116.0 117.3 1118.6 117.5 1121.3 117.7C1124.0 117.8 1126.6 117.9 1129.3 118.0C1132.0 118.0 1134.6 118.0 1137.3 118.0C1140.0 117.9 1142.6 117.8 1145.3 117.6C1148.0 117.5 1150.6 117.2 1153.3 117.0C1156.0 116.7 1158.6 116.3 1161.3 115.9C1164.0 115.5 1166.6 115.0 1169.3 114.5C1172.0 114.0 1174.6 113.4 1177.3 112.7C1180.0 112.1 1182.6 111.4 1185.3 110.7C1188.0 110.0 1190.6 109.2 1193.3 108.4C1196.0 107.6 1198.6 106.8 1201.3 105.9C1204.0 105.0 1206.6 104.1 1209.3 103.3C1212.0 102.4 1214.6 101.4 1217.3 100.5C1220.0 99.6 1222.6 98.7 1225.3 97.8C1228.0 96.9 1230.6 95.9 1233.3 95.0C1236.0 94.1 1238.6 93.2 1241.3 92.3C1244.0 91.4 1246.6 90.6 1249.3 89.7C1252.0 88.8 1254.6 88.0 1257.3 87.1C1260.0 86.3 1262.6 85.4 1265.3 84.6C1268.0 83.7 1270.6 82.9 1273.3 82.0C1276.0 81.1 1278.6 80.3 1281.3 79.4C1284.0 78.6 1286.6 77.8 1289.3 76.9C1292.0 76.1 1294.6 75.3 1297.3 74.5C1300.0 73.7 1302.6 72.9 1305.3 72.1C1308.0 71.3 1310.6 70.6 1313.3 69.8C1316.0 69.1 1318.6 68.4 1321.3 67.7C1324.0 67.1 1326.6 66.4 1329.3 65.8C1332.0 65.2 1334.6 64.7 1337.3 64.1C1340.0 63.6 1342.6 63.1 1345.3 62.6C1348.0 62.1 1350.6 61.7 1353.3 61.3C1356.0 60.9 1358.6 60.5 1361.3 60.1C1364.0 59.8 1366.6 59.5 1369.3 59.2C1372.0 58.9 1374.6 58.6 1377.3 58.4C1380.0 58.1 1382.6 57.9 1385.3 57.7C1388.0 57.5 1390.6 57.3 1393.3 57.2C1396.0 57.0 1398.6 56.9 1401.3 56.8C1404.0 56.7 1406.6 56.6 1409.3 56.6C1412.0 56.6 1414.6 56.6 1417.3 56.6C1420.0 56.7 1422.6 56.8 1425.3 56.9C1428.0 57.0 1430.6 57.2 1433.3 57.4C1436.0 57.7 1438.6 57.9 1441.3 58.3C1444.0 58.6 1446.6 59.0 1449.3 59.5C1452.0 59.9 1454.6 60.4 1457.3 61.0C1460.0 61.6 1462.6 62.2 1465.3 62.9C1468.0 63.6 1470.6 64.4 1473.3 65.3C1476.0 66.1 1478.6 67.1 1481.3 68.1C1484.0 69.1 1486.6 70.2 1489.3 71.3C1492.0 72.5 1494.6 73.8 1497.3 75.1C1500.0 76.4 1502.6 77.8 1505.3 79.3C1508.0 80.8 1510.6 82.3 1513.3 84.0C1516.0 85.6 1518.6 87.3 1521.3 89.1C1524.0 90.8 1526.6 92.7 1529.3 94.6C1532.0 96.5 1534.6 98.4 1537.3 100.4C1540.0 102.4 1542.6 104.4 1545.3 106.4C1548.0 108.5 1550.6 110.6 1553.3 112.7C1556.0 114.8 1558.6 116.9 1561.3 119.1C1564.0 121.3 1566.6 123.5 1569.3 125.6C1572.0 127.8 1574.3 129.8 1577.3 132.3C1580.3 134.8 1585.8 139.3 1587.5 140.8"/><use href="#cTi" y="1.50"/></g>
</g>
<path d="M199.3 50.7H1591.4M199.3 916.7H1591.4" stroke="#000" fill="none" stroke-width="9.2"/>
<path d="M203.5 46.2V921.4M1587.2 46.2V921.4" stroke="#000" fill="none" stroke-width="8.3"/>
<text transform="translate(184.6,939.9) scale(0.958,1)" font-size="72" text-anchor="end">0</text>
<text transform="translate(184.6,852.7) scale(0.958,1)" font-size="72" text-anchor="end">0.1</text>
<text transform="translate(184.6,767.5) scale(0.958,1)" font-size="72" text-anchor="end">0.2</text>
<text transform="translate(184.6,682.0) scale(0.958,1)" font-size="72" text-anchor="end">0.3</text>
<text transform="translate(184.6,595.1) scale(0.958,1)" font-size="72" text-anchor="end">0.4</text>
<text transform="translate(184.6,508.8) scale(0.958,1)" font-size="72" text-anchor="end">0.5</text>
<text transform="translate(184.6,421.8) scale(0.958,1)" font-size="72" text-anchor="end">0.6</text>
<text transform="translate(184.6,335.6) scale(0.958,1)" font-size="72" text-anchor="end">0.7</text>
<text transform="translate(184.6,251.4) scale(0.958,1)" font-size="72" text-anchor="end">0.8</text>
<text transform="translate(184.6,165.2) scale(0.958,1)" font-size="72" text-anchor="end">0.9</text>
<text transform="translate(182.0,79.0) scale(0.958,1)" font-size="72" text-anchor="end">1</text>
<text transform="translate(203.7,999.5) scale(0.958,1)" font-size="72" text-anchor="middle">300</text>
<text transform="translate(549.7,999.5) scale(0.958,1)" font-size="72" text-anchor="middle">400</text>
<text transform="translate(896.2,999.5) scale(0.958,1)" font-size="72" text-anchor="middle">500</text>
<text transform="translate(1239.5,999.5) scale(0.958,1)" font-size="72" text-anchor="middle">600</text>
<text transform="translate(1538.2,994.8) scale(0.958,1)" font-size="72" text-anchor="middle">700</text>
<text transform="translate(897,1089) scale(0.962,1)" font-size="79.5" text-anchor="middle">Wavelength(nm)</text>
<text transform="translate(74,559) scale(1,1.03) rotate(-90)" font-size="75" text-anchor="middle">Absorption</text>
<rect x="593" y="356.5" width="508.5" height="333" fill="#fff" stroke="#000" stroke-width="8.5"/>
<line x1="613.5" x2="711.5" y1="401.3" y2="401.3" stroke="#00ff00" stroke-width="10.4"/>
<line x1="613.5" x2="711.5" y1="484.3" y2="484.3" stroke="#0000ff" stroke-width="10.4"/>
<line x1="613.5" x2="711.5" y1="567.0" y2="567.0" stroke="#ff0000" stroke-width="10.4"/>
<line x1="613.5" x2="711.5" y1="649.8" y2="649.8" stroke="#00bcbc" stroke-width="10.4" stroke-dasharray="40.5 34"/>
<line x1="848.0" x2="946.5" y1="490.5" y2="490.5" stroke="#ff00ff" stroke-width="10.4"/>
<line x1="847.0" x2="944.5" y1="565.6" y2="565.6" stroke="#000000" stroke-width="10.4"/>
<text transform="translate(742.5,423.5) scale(1.000,1)" font-size="57" style="fill:#000">Ag</text>
<text transform="translate(742.5,510.0) scale(1.000,1)" font-size="57" style="fill:#000">Al</text>
<text transform="translate(740.5,581.5) scale(1.000,1)" font-size="57" style="fill:#000">Au</text>
<text transform="translate(741.5,656.7) scale(1.000,1)" font-size="57" style="fill:#000">Cu</text>
<text transform="translate(973.3,509.3) scale(0.955,1)" font-size="57" style="fill:#000">Ti</text>
<text transform="translate(975.0,574.0) scale(0.985,1)" font-size="57" style="fill:#000">Ni</text>
</g></svg></body></html>
